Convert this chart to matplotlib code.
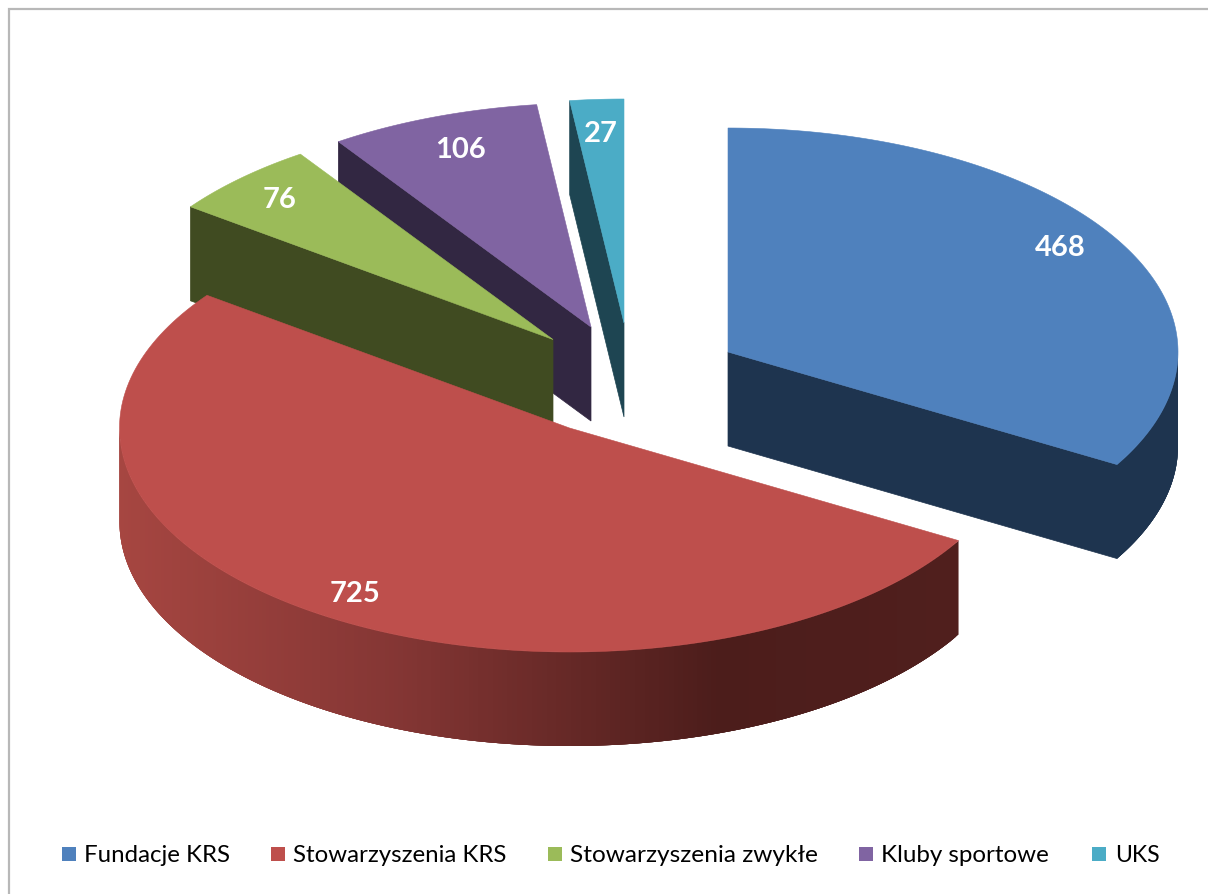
import numpy as np
import matplotlib
matplotlib.use("Agg")
import matplotlib.pyplot as plt
from matplotlib.patches import Polygon, Rectangle

categories = ["Fundacje KRS", "Stowarzyszenia KRS", "Stowarzyszenia zwykłe", "Kluby sportowe", "UKS"]
values = [468, 725, 76, 106, 27]
top_colors = ["#4F81BD", "#BE4F4C", "#9BBB59", "#8064A2", "#4BACC6"]
wall_colors = ["#1E344F", "#4E1E1C", "#404B21", "#322742", "#1E4552"]

# layout (pixel space of the figure)
W, H = 1208, 894
RX, RY, DEPTH = 450, 224, 94
apexes = [(728, 352), (569.5, 428), (553, 339.5), (591, 327), (624, 323)]
label_xy = [(1060, 248), (355, 594), (280, 200), (461, 150), (601, 134)]
legend_box_x = [62, 271, 548, 859, 1092]
legend_text_x = [84, 293, 570, 881, 1115]
legend_font = [17.3, 17.3, 17.6, 17.4, 16.6]
LEGEND_Y = 854

plt.rcParams["font.family"] = ["Lato", "DejaVu Sans"]
fig = plt.figure(figsize=(W / 100, H / 100), dpi=100)
ax = fig.add_axes([0, 0, 1, 1])
ax.set_xlim(0, W)
ax.set_ylim(H, 0)
ax.axis("off")

# chart frame (cropped at right and bottom)
ax.plot([8.5, 8.5, W], [H, 9, 9], color="#B8B8B8", lw=1.6, solid_joinstyle="miter", zorder=0)

total = sum(values)
edges = np.concatenate([[0], np.cumsum(values)]) / total * 360.0


def rim(apex, a0, a1, n=160):
    t = np.radians(np.linspace(a0, a1, n))
    return np.column_stack([apex[0] + RX * np.sin(t), apex[1] - RY * np.cos(t)])


def red_shade(x):
    stops_x = [120, 400, 720, 958]
    r = np.interp(x, stops_x, [166, 132, 76, 80])
    g = np.interp(x, stops_x, [70, 54, 29, 31])
    b = np.interp(x, stops_x, [65, 52, 27, 29])
    return (r / 255, g / 255, b / 255)


def draw_slice(i, z):
    a0, a1 = edges[i], edges[i + 1]
    apex = apexes[i]
    wall = wall_colors[i]
    pts = rim(apex, a0, a1)
    # cut face turned toward the viewer
    if i == 0:
        p = pts[-1]
        ax.add_patch(Polygon([apex, p, (p[0], p[1] + DEPTH), (apex[0], apex[1] + DEPTH)],
                             fc=wall, ec=wall, lw=0.5, zorder=z))
    elif i >= 2:
        p = pts[0]
        ax.add_patch(Polygon([apex, p, (p[0], p[1] + DEPTH), (apex[0], apex[1] + DEPTH)],
                             fc=wall, ec=wall, lw=0.5, zorder=z))
    # outer cylindrical wall, front half only
    lo, hi = max(a0, 90), min(a1, 270)
    if lo < hi:
        w = rim(apex, lo, hi, 240)
        step = 4
        for s in range(len(w) - 1):
            a, b = w[s], w[min(s + step, len(w) - 1)]
            mid = w[s:min(s + step, len(w) - 1) + 1]
            col = wall if i != 1 else red_shade(a[0])
            poly = np.vstack([mid, mid[::-1] + [0, DEPTH]])
            ax.add_patch(Polygon(poly, fc=col, ec="none", lw=0, zorder=z))
    # top face
    ax.add_patch(Polygon(np.vstack([[apex], pts]), closed=True, fc=top_colors[i],
                         ec=top_colors[i], lw=0.4, zorder=z + 0.5))


for z, i in enumerate([4, 3, 2, 1, 0], start=1):
    draw_slice(i, z)

for val, (x, y) in zip(values, label_xy):
    ax.text(x, y, str(val), color="white", fontsize=21, fontweight="bold",
            ha="center", va="center", zorder=10)

for name, col, bx, tx, fs in zip(categories, top_colors, legend_box_x, legend_text_x, legend_font):
    ax.add_patch(Rectangle((bx, LEGEND_Y - 7), 14, 14, fc=col, ec="none", zorder=10))
    ax.text(tx, LEGEND_Y + 1, name, color="#000000", fontsize=fs, ha="left", va="center", zorder=10)

fig.savefig("out.png", dpi=100)
